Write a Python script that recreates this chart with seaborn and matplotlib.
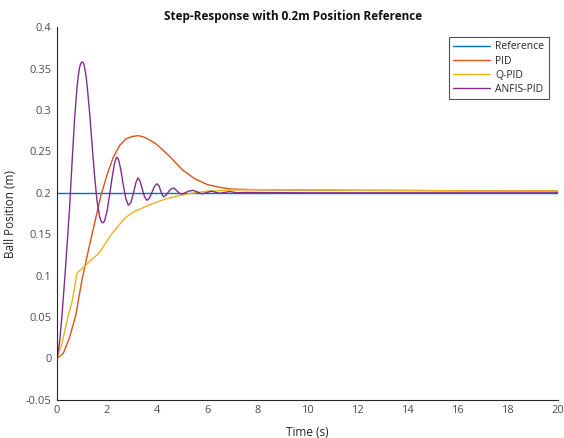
import pandas as pd
import matplotlib
matplotlib.use('Agg')
import matplotlib.pyplot as plt
from matplotlib.ticker import FuncFormatter, MultipleLocator
import seaborn as sns

# time / position values
ref_t = [0, 20]
ref_y = [0.2, 0.2]

pid_t = [0, 0.25, 0.5, 0.75, 1.0, 1.25, 1.5, 1.75, 2.0, 2.25, 2.5, 2.75, 3.0,
         3.25, 3.5, 3.75, 4.0, 4.5, 5.0, 5.5, 6.0, 6.5, 7.0, 8.0, 9.0, 10.0,
         12.0, 14.0, 16.0, 18.0, 20.0]
pid_y = [0, 0.006, 0.025, 0.052, 0.095, 0.13, 0.163, 0.196, 0.222, 0.243,
         0.257, 0.265, 0.268, 0.269, 0.267, 0.263, 0.258, 0.244, 0.228, 0.217,
         0.21, 0.2065, 0.2045, 0.2037, 0.2035, 0.2033, 0.203, 0.2028, 0.2025,
         0.2023, 0.2022]

qpid_t = [0, 0.2, 0.45, 0.6, 0.8, 1.2, 1.7, 2.0, 2.25, 2.7, 3.0, 3.5, 4.0,
          4.5, 5.0, 5.5, 6.0, 7.0, 8.0, 10.0, 12.0, 14.0, 16.0, 18.0, 20.0]
qpid_y = [0, 0.018, 0.052, 0.068, 0.103, 0.114, 0.128, 0.142, 0.153, 0.169,
          0.176, 0.183, 0.189, 0.194, 0.1975, 0.2, 0.202, 0.2033, 0.2038,
          0.2035, 0.203, 0.2028, 0.2025, 0.2023, 0.2022]

anfis_t = [0, 0.1, 0.2, 0.3, 0.4, 0.5, 0.6, 0.7, 0.8, 0.85, 0.9, 0.95, 1.0,
           1.05, 1.1, 1.15, 1.2, 1.3, 1.4, 1.5, 1.6, 1.7, 1.75, 1.8, 1.85,
           1.9, 2.0, 2.1, 2.2, 2.3, 2.38, 2.45, 2.55, 2.65, 2.75, 2.85, 2.95,
           3.05, 3.15, 3.23, 3.32, 3.42, 3.5, 3.59, 3.68, 3.8, 3.9, 3.99, 4.08,
           4.17, 4.25, 4.35, 4.5, 4.6, 4.68, 4.8, 4.92, 5.05, 5.25, 5.45, 5.6,
           5.78, 5.95, 6.17, 6.35, 6.5, 6.7, 6.9, 7.2, 7.5, 8.0, 10.0, 20.0]
anfis_y = [0, 0.018, 0.052, 0.092, 0.135, 0.18, 0.235, 0.288, 0.327, 0.341,
           0.351, 0.356, 0.358, 0.357, 0.352, 0.343, 0.331, 0.298, 0.259,
           0.221, 0.19, 0.172, 0.167, 0.164, 0.164, 0.166, 0.178, 0.197, 0.218,
           0.236, 0.243, 0.241, 0.228, 0.209, 0.193, 0.185, 0.188, 0.199,
           0.212, 0.218, 0.214, 0.203, 0.195, 0.191, 0.193, 0.201, 0.208,
           0.211, 0.208, 0.2, 0.195, 0.197, 0.203, 0.2055, 0.2056, 0.202,
           0.1988, 0.199, 0.202, 0.203, 0.201, 0.1988, 0.2, 0.202, 0.2005,
           0.1995, 0.2005, 0.2015, 0.2, 0.2005, 0.2003, 0.2, 0.2]

labels = ['Reference', 'PID', 'Q-PID', 'ANFIS-PID']
colors = ['#0072BD', '#D95319', '#EDB120', '#7E2F8E']


def build_df():
	parts = []
	for name, t, y in zip(labels, [ref_t, pid_t, qpid_t, anfis_t],
	                      [ref_y, pid_y, qpid_y, anfis_y]):
		parts.append(pd.DataFrame({'time': t, 'pos': y, 'controller': name}))
	return pd.concat(parts, ignore_index=True)


def plot(df):
	sns.set_style('white')
	plt.rcParams['font.family'] = ['Open Sans', 'DejaVu Sans']
	text_col = '#262626'

	fig = plt.figure(figsize=(5.64, 4.38), dpi=100)
	ax = fig.add_axes([0.101, 0.087, 0.888, 0.851])

	sns.lineplot(data=df, x='time', y='pos', hue='controller', hue_order=labels,
	             palette=colors, estimator=None, sort=False, linewidth=1.0, ax=ax)

	ax.set_xlim(0, 20)
	ax.set_ylim(-0.05, 0.4)
	ax.xaxis.set_major_locator(MultipleLocator(2))
	ax.yaxis.set_major_locator(MultipleLocator(0.05))
	ax.yaxis.set_major_formatter(FuncFormatter(lambda v, p: '%g' % round(v, 3)))
	ax.tick_params(direction='in', length=3, width=0.8, colors=text_col,
	               labelsize=8, labelcolor='#4d4d4d', pad=4)

	for s in ['top', 'right']:
		ax.spines[s].set_visible(False)
	for s in ['left', 'bottom']:
		ax.spines[s].set_color(text_col)
		ax.spines[s].set_linewidth(0.8)

	ax.set_xlabel('Time (s)', fontsize=8.5, color=text_col, labelpad=7)
	ax.set_ylabel('Ball Position (m)', fontsize=8.5, color=text_col, labelpad=6)
	ax.set_title('Step-Response with 0.2m Position Reference', fontsize=8.5,
	             fontweight='bold', color='#111111', pad=5, x=0.472)

	leg = ax.legend(loc='upper right', fontsize=7.5, frameon=True, fancybox=False,
	                borderpad=0.4, handlelength=3.6, handletextpad=0.5,
	                labelspacing=0.3, bbox_to_anchor=(0.992, 0.987))
	leg.get_frame().set_edgecolor(text_col)
	leg.get_frame().set_linewidth(0.8)
	for t in leg.get_texts():
		t.set_color(text_col)

	fig.savefig('out.png', dpi=100, facecolor='white')


if __name__ == '__main__':
	plot(build_df())
